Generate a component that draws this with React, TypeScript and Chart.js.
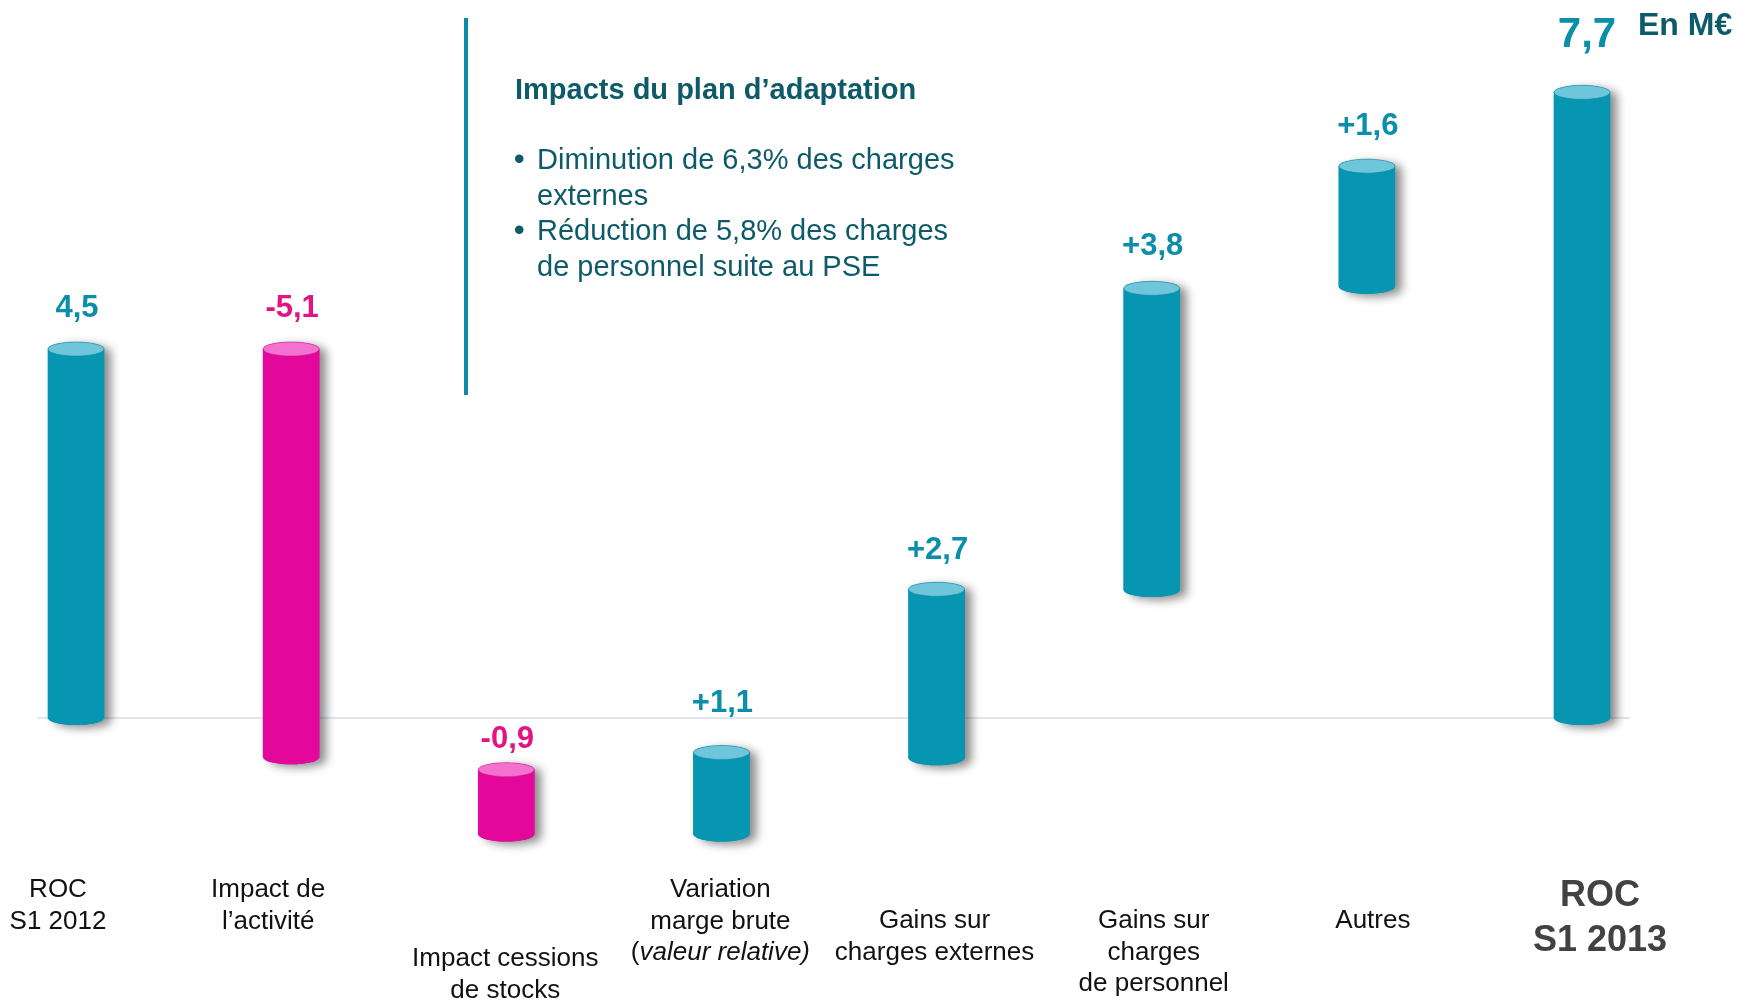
import React, { useEffect, useRef } from 'react';
import { Chart, registerables } from 'chart.js';

Chart.register(...registerables);

// ---- data ----
const categories: string[][] = [
  ['ROC', 'S1 2012'],
  ['Impact de', 'l’activité'],
  ['Impact cessions', 'de stocks'],
  ['Variation', 'marge brute', '(valeur relative)'],
  ['Gains sur', 'charges externes'],
  ['Gains sur', 'charges', 'de personnel'],
  ['Autres'],
  ['ROC', 'S1 2013'],
];
const valueLabels = ['4,5', '-5,1', '-0,9', '+1,1', '+2,7', '+3,8', '+1,6', '7,7'];
// floating bar ranges as drawn in the picture (M€)
const barStart = [0, 4.5, -0.63, -1.42, -0.49, 1.56, 5.26, 0];
const barEnd = [4.5, -0.48, -1.42, -0.42, 1.57, 5.24, 6.73, 7.63];

const boxTitle = 'Impacts du plan d’adaptation';
const boxBullets: string[][] = [
  ['Diminution de 6,3% des charges', 'externes'],
  ['Réduction de 5,8% des charges', 'de personnel suite au PSE'],
];
const unitLabel = 'En M€';

// ---- layout / style ----
const Y_MIN = -3.4634;
const Y_MAX = 8.7561;
const FONT = '"Liberation Sans", Arial, sans-serif';
const TEAL = '#0796b1';
const TEAL_TOP = '#6fc6da';
const PINK = '#e3079b';
const PINK_TOP = '#f571cf';
const TEAL_TXT = '#0b8ea9';
const PINK_TXT = '#e3137f';
const DARK_TEAL = '#0d5a68';
const labelGap = [32, 32, 22, 40, 30, 33, 31, 45];
const catDx = [-18, -23, -1, -1, -2, 2, 6, 18];
const catY = [890, 890, 959, 890, 921, 921, 921, 896];

const isNeg = (i: number) => valueLabels[i].startsWith('-');

const cylPlugin = {
  id: 'cyl',
  beforeDatasetsDraw(chart: any) {
    const ctx: CanvasRenderingContext2D = chart.ctx;
    const y0 = chart.scales.y.getPixelForValue(0);
    ctx.save();
    ctx.strokeStyle = '#d6dfe6';
    ctx.lineWidth = 1.5;
    ctx.beginPath();
    ctx.moveTo(37, y0);
    ctx.lineTo(1630, y0);
    ctx.stroke();
    ctx.restore();

    const meta = chart.getDatasetMeta(0);
    meta.data.forEach((el: any, i: number) => {
      const { x, y, base, width } = el.getProps(['x', 'y', 'base', 'width'], true);
      const top = Math.min(y, base);
      const bot = Math.max(y, base);
      const rx = width / 2;
      const ry = 7;
      ctx.save();
      ctx.shadowColor = 'rgba(0,0,0,0.45)';
      ctx.shadowBlur = 10;
      ctx.shadowOffsetX = 7;
      ctx.shadowOffsetY = 3;
      ctx.fillStyle = isNeg(i) ? PINK : TEAL;
      ctx.beginPath();
      ctx.moveTo(x + rx, top);
      ctx.ellipse(x, top, rx, ry, 0, 0, Math.PI, true);
      ctx.lineTo(x - rx, bot);
      ctx.ellipse(x, bot, rx, ry, 0, Math.PI, 0, true);
      ctx.closePath();
      ctx.fill();
      ctx.restore();
    });
  },
  afterDatasetsDraw(chart: any) {
    const ctx: CanvasRenderingContext2D = chart.ctx;
    const meta = chart.getDatasetMeta(0);
    meta.data.forEach((el: any, i: number) => {
      const { x, y, base, width } = el.getProps(['x', 'y', 'base', 'width'], true);
      const top = Math.min(y, base);
      const bot = Math.max(y, base);
      const rx = width / 2;
      const ry = 7;
      const neg = isNeg(i);
      ctx.save();
      ctx.fillStyle = neg ? PINK : TEAL;
      ctx.beginPath();
      ctx.ellipse(x, bot, rx, ry, 0, 0, Math.PI, false);
      ctx.fill();
      ctx.fillStyle = neg ? PINK_TOP : TEAL_TOP;
      ctx.strokeStyle = neg ? 'rgba(200,20,140,0.5)' : 'rgba(10,130,160,0.5)';
      ctx.lineWidth = 1;
      ctx.beginPath();
      ctx.ellipse(x, top, rx, ry, 0, 0, Math.PI * 2);
      ctx.fill();
      ctx.stroke();
      const big = i === valueLabels.length - 1;
      ctx.font = `bold ${big ? 42 : 31}px ${FONT}`;
      ctx.fillStyle = neg ? PINK_TXT : TEAL_TXT;
      ctx.textAlign = 'center';
      ctx.textBaseline = 'alphabetic';
      ctx.fillText(valueLabels[i], x + (big ? 5 : 1), top - labelGap[i]);
      ctx.restore();
    });
  },
  afterDraw(chart: any) {
    const ctx: CanvasRenderingContext2D = chart.ctx;
    const xs = chart.scales.x;
    ctx.save();
    categories.forEach((lines, i) => {
      const cx = xs.getPixelForValue(i) + catDx[i];
      const last = i === categories.length - 1;
      const step = last ? 45 : 31.5;
      ctx.textBaseline = 'middle';
      lines.forEach((ln, k) => {
        const yy = catY[i] + k * step;
        if (last) {
          ctx.font = `bold 36px ${FONT}`;
          ctx.fillStyle = '#424242';
          ctx.textAlign = 'center';
          ctx.fillText(ln, cx, yy);
        } else if (ln.startsWith('(') && ln.endsWith(')')) {
          const a = '(';
          const b = ln.slice(1);
          ctx.font = `26px ${FONT}`;
          const wa = ctx.measureText(a).width;
          ctx.font = `italic 26px ${FONT}`;
          const wb = ctx.measureText(b).width;
          const sx = cx - (wa + wb) / 2;
          ctx.fillStyle = '#111111';
          ctx.textAlign = 'left';
          ctx.font = `26px ${FONT}`;
          ctx.fillText(a, sx, yy);
          ctx.font = `italic 26px ${FONT}`;
          ctx.fillText(b, sx + wa, yy);
        } else {
          ctx.font = `26px ${FONT}`;
          ctx.fillStyle = '#111111';
          ctx.textAlign = 'center';
          ctx.fillText(ln, cx, yy);
        }
      });
    });

    ctx.strokeStyle = '#0b8ba4';
    ctx.lineWidth = 4;
    ctx.beginPath();
    ctx.moveTo(466, 18);
    ctx.lineTo(466, 395);
    ctx.stroke();

    ctx.textAlign = 'left';
    ctx.textBaseline = 'middle';
    ctx.fillStyle = DARK_TEAL;
    ctx.font = `bold 29px ${FONT}`;
    ctx.fillText(boxTitle, 515, 91);
    let yy = 161;
    boxBullets.forEach((b) => {
      b.forEach((ln, k) => {
        if (k === 0) {
          ctx.font = `bold 30px ${FONT}`;
          ctx.fillText('•', 514, yy);
        }
        ctx.font = `29px ${FONT}`;
        ctx.fillText(ln, 537, yy);
        yy += 35.5;
      });
    });

    ctx.font = `bold 32px ${FONT}`;
    ctx.textBaseline = 'alphabetic';
    ctx.fillText(unitLabel, 1638, 35);
    ctx.restore();
  },
};

export default function App() {
  const ref = useRef<HTMLCanvasElement | null>(null);
  useEffect(() => {
    if (!ref.current) return;
    const chart = new Chart(ref.current, {
      type: 'bar',
      data: {
        labels: categories.map((c) => c.join(' ')),
        datasets: [
          {
            data: barStart.map((s, i) => [s, barEnd[i]]) as any,
            backgroundColor: valueLabels.map((_, i) => (isNeg(i) ? PINK : TEAL)),
            borderWidth: 0,
            barThickness: 56,
            clip: false as any,
          },
        ],
      },
      options: {
        responsive: false,
        animation: false,
        layout: { padding: { left: 76, right: 170, top: 0, bottom: 0 } },
        plugins: { legend: { display: false }, tooltip: { enabled: false } },
        scales: {
          x: { type: 'category', display: false, offset: false, grid: { display: false } },
          y: { display: false, min: Y_MIN, max: Y_MAX },
        },
      },
      plugins: [cylPlugin],
    });
    return () => chart.destroy();
  }, []);
  return (
    <div style={{ position: 'fixed', left: 0, top: 0, width: 1752, height: 1002, background: '#fff' }}>
      <canvas ref={ref} width={1752} height={1002} style={{ width: 1752, height: 1002 }} />
    </div>
  );
}
